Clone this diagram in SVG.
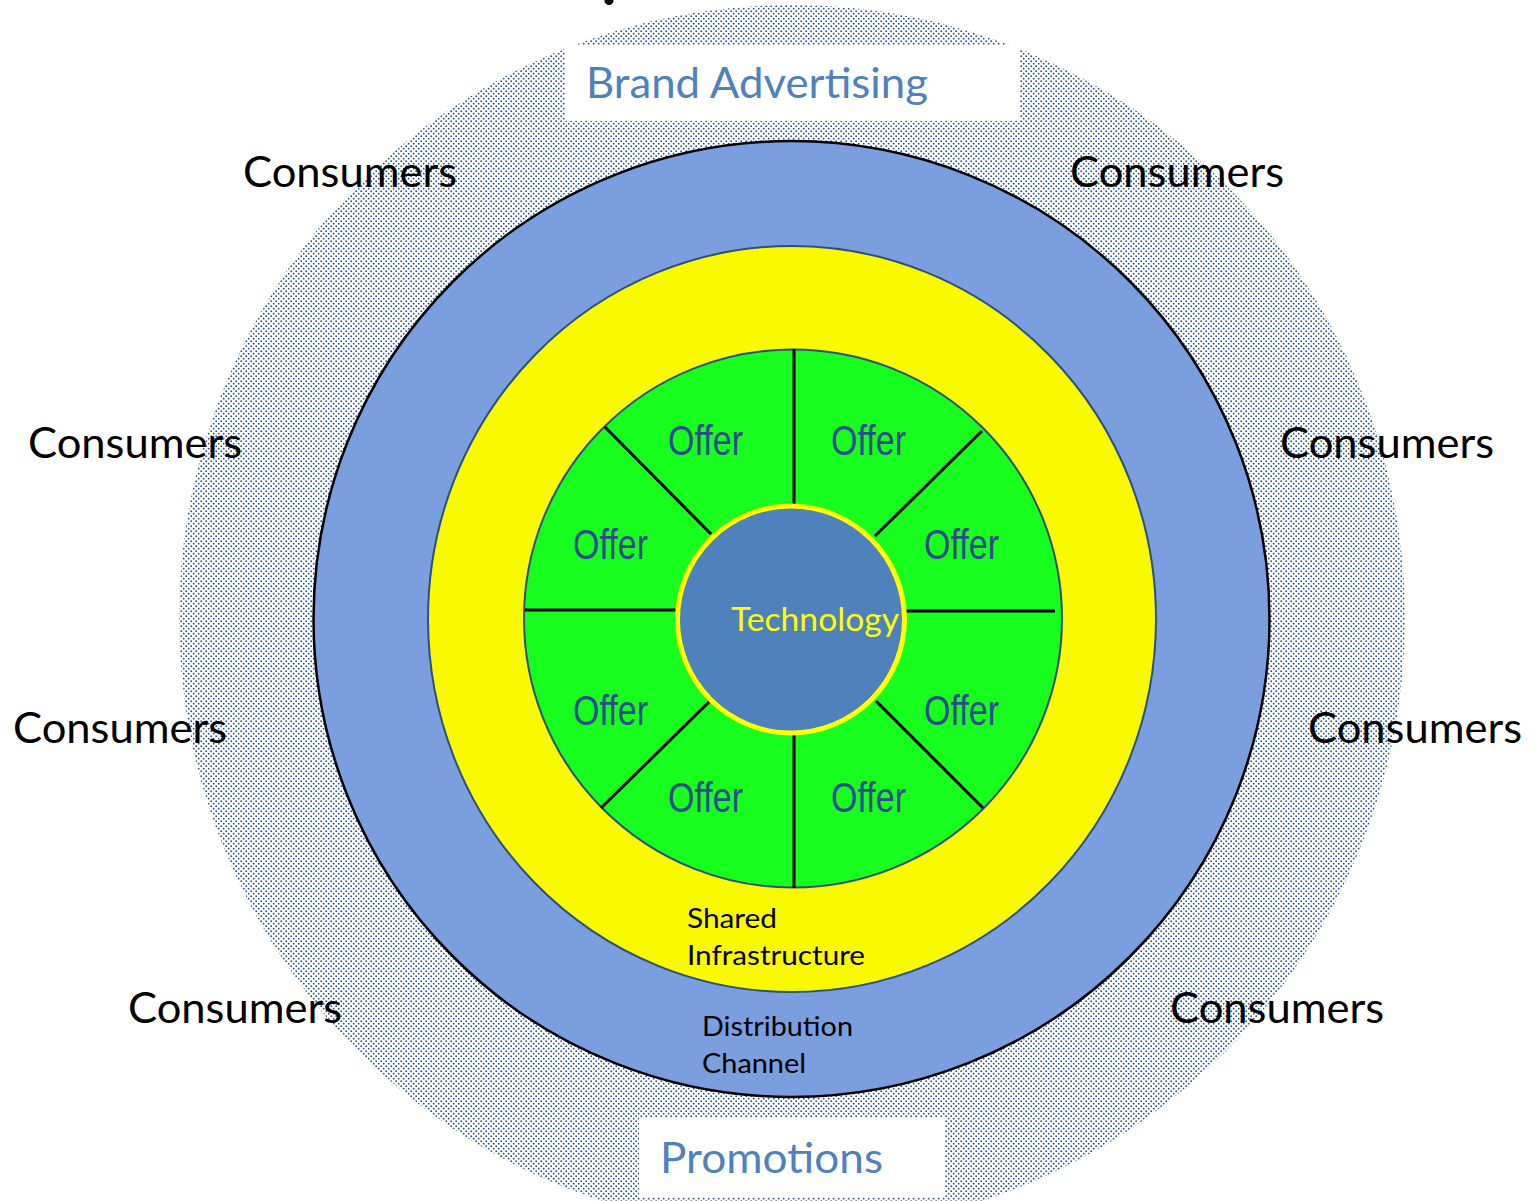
<svg xmlns="http://www.w3.org/2000/svg" width="1538" height="1201" viewBox="0 0 1538 1201">
<defs>
<pattern id="dots" width="5" height="5" patternUnits="userSpaceOnUse">
<circle cx="1.2" cy="1.2" r="0.9" fill="#2a4e86"/>
<circle cx="3.7" cy="3.7" r="0.9" fill="#2a4e86"/>
</pattern>
<style>
.cons{font-family:Lato,"Open Sans","Liberation Sans",sans-serif;font-size:42px;fill:#000}
.blue{font-family:Lato,"Open Sans","Liberation Sans",sans-serif;font-size:42px;fill:#4f81bd}
.offer{font-family:"Liberation Sans",Arial,sans-serif;font-size:42px;fill:#2b4c8c}
.small{font-family:Lato,"Open Sans","Liberation Sans",sans-serif;font-size:27px;fill:#000}
.spoke{stroke:#000;stroke-width:3;fill:none}
</style>
</defs>
<rect width="1538" height="1201" fill="#fff"/>
<ellipse cx="609" cy="1" rx="4.5" ry="4" fill="#000"/>
<g id="consumers-zone">
<circle cx="792" cy="618" r="613" fill="url(#dots)"/>
</g>
<g id="brand-advertising">
<rect x="565" y="45" width="455" height="76" fill="#fff"/>
<text class="blue" x="586" y="98" textLength="342" lengthAdjust="spacingAndGlyphs">Brand Advertising</text>
</g>
<g id="promotions">
<rect x="639" y="1117" width="306" height="80" fill="#fff"/>
<text class="blue" x="660" y="1173" textLength="223" lengthAdjust="spacingAndGlyphs">Promotions</text>
</g>
<g id="distribution-channel">
<circle cx="791.5" cy="619" r="478" fill="#7b9fde" stroke="#000" stroke-width="2.5"/>
<text class="small" x="702" y="1036" textLength="151" lengthAdjust="spacingAndGlyphs">Distribution</text>
<text class="small" x="702" y="1073" textLength="104" lengthAdjust="spacingAndGlyphs">Channel</text>
</g>
<g id="shared-infrastructure">
<ellipse cx="792" cy="619" rx="364" ry="373" fill="#f9fa00" stroke="#2c4f7c" stroke-width="2"/>
<text class="small" x="687" y="928" textLength="90" lengthAdjust="spacingAndGlyphs">Shared</text>
<text class="small" x="687" y="965" textLength="178" lengthAdjust="spacingAndGlyphs">Infrastructure</text>
</g>
<g id="offers">
<circle cx="793" cy="618.5" r="269" fill="#17fd1e" stroke="#2c4f7c" stroke-width="2"/>
</g>
<g id="connectors">
<line class="spoke" x1="794" y1="349" x2="794" y2="504"/>
<line class="spoke" x1="794" y1="734" x2="794" y2="888"/>
<line class="spoke" x1="525" y1="610" x2="677" y2="610"/>
<line class="spoke" x1="906" y1="611" x2="1055" y2="611"/>
<line class="spoke" x1="605" y1="427" x2="711" y2="534"/>
<line class="spoke" x1="982" y1="431" x2="875" y2="536"/>
<line class="spoke" x1="601" y1="808" x2="709" y2="702"/>
<line class="spoke" x1="983" y1="808" x2="876" y2="701"/>
</g>
<g id="offer-labels">
<text class="offer" x="668" y="455" textLength="75" lengthAdjust="spacingAndGlyphs">Offer</text>
<text class="offer" x="831" y="455" textLength="75" lengthAdjust="spacingAndGlyphs">Offer</text>
<text class="offer" x="573" y="559" textLength="75" lengthAdjust="spacingAndGlyphs">Offer</text>
<text class="offer" x="924" y="559" textLength="75" lengthAdjust="spacingAndGlyphs">Offer</text>
<text class="offer" x="573" y="725" textLength="75" lengthAdjust="spacingAndGlyphs">Offer</text>
<text class="offer" x="924" y="725" textLength="75" lengthAdjust="spacingAndGlyphs">Offer</text>
<text class="offer" x="668" y="812" textLength="75" lengthAdjust="spacingAndGlyphs">Offer</text>
<text class="offer" x="831" y="812" textLength="75" lengthAdjust="spacingAndGlyphs">Offer</text>
</g>
<g id="technology">
<circle cx="791" cy="619.5" r="113.5" fill="#4f81bd" stroke="#ffff00" stroke-width="5"/>
<text x="731" y="631" font-family="Lato,'Open Sans','Liberation Sans',sans-serif" font-size="33" fill="#ffff00" textLength="168" lengthAdjust="spacingAndGlyphs">Technology</text>
</g>
<g id="consumer-labels">
<text class="cons" x="243" y="187" textLength="214" lengthAdjust="spacingAndGlyphs">Consumers</text>
<text class="cons" x="1070" y="187" textLength="214" lengthAdjust="spacingAndGlyphs">Consumers</text>
<text class="cons" x="28" y="458" textLength="214" lengthAdjust="spacingAndGlyphs">Consumers</text>
<text class="cons" x="1280" y="458" textLength="214" lengthAdjust="spacingAndGlyphs">Consumers</text>
<text class="cons" x="13" y="743" textLength="214" lengthAdjust="spacingAndGlyphs">Consumers</text>
<text class="cons" x="1308" y="743" textLength="214" lengthAdjust="spacingAndGlyphs">Consumers</text>
<text class="cons" x="128" y="1023" textLength="214" lengthAdjust="spacingAndGlyphs">Consumers</text>
<text class="cons" x="1170" y="1023" textLength="214" lengthAdjust="spacingAndGlyphs">Consumers</text>
</g>
</svg>
